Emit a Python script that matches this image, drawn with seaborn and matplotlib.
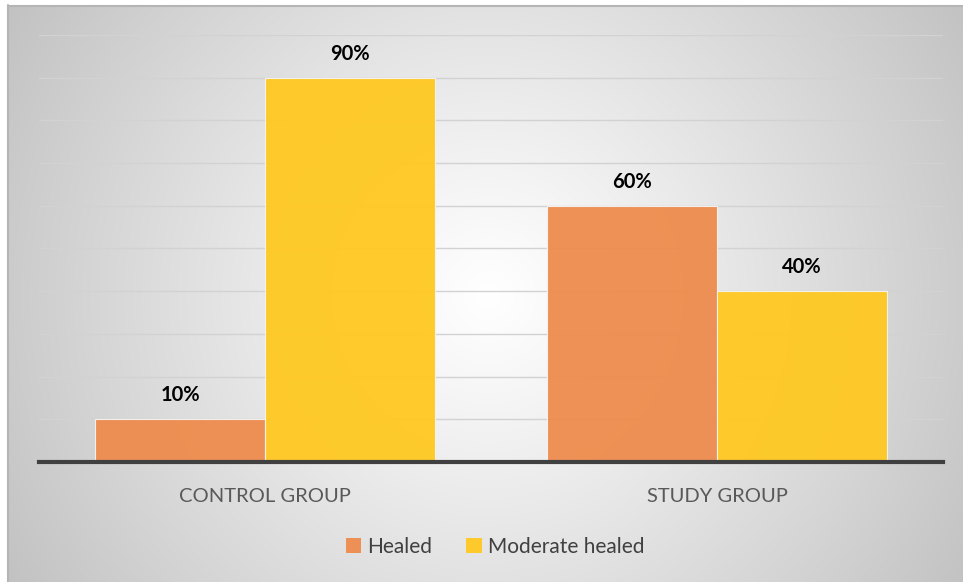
import numpy as np
import pandas as pd
import matplotlib
matplotlib.use("Agg")
import matplotlib.pyplot as plt
from matplotlib.patches import Patch
import seaborn as sns

groups = ["CONTROL GROUP", "STUDY GROUP"]
series = ["Healed", "Moderate healed"]
healed = [10, 60]
moderate = [90, 40]
colors = ["#EE8B4C", "#FFC81F"]

df = pd.DataFrame({
    "group": groups * 2,
    "series": [series[0]] * 2 + [series[1]] * 2,
    "value": healed + moderate,
})

sns.set_theme(style="white")
plt.rcParams["font.family"] = ["Lato", "DejaVu Sans"]

W, H = 963, 582
fig = plt.figure(figsize=(W / 100, H / 100), dpi=100)
fig.patch.set_facecolor("white")

# background radial gradient panel
bg = fig.add_axes([8 / W, 0, 1 - 8 / W, 1 - 5 / H])
bg.set_axis_off()
yy, xx = np.mgrid[0:577, 0:955]
cx, cy = 480, 290
d = np.sqrt((xx - cx) ** 2 + (yy - cy) ** 2)
t = d / d.max()
val = 1 - 0.24 * t ** 1.1
img = np.dstack([val, val, val])
bg.imshow(img, aspect="auto", extent=[0, 1, 0, 1], origin="upper")
bg.set_xlim(0, 1)
bg.set_ylim(0, 1)
bg.plot([0.0005, 0.0005], [0, 1], color="#b5b5b5", lw=1.5, transform=bg.transAxes, clip_on=False)
bg.plot([0, 1], [0.999, 0.999], color="#b5b5b5", lw=1.5, transform=bg.transAxes, clip_on=False)

ax = fig.add_axes([39 / W, (H - 462) / H, (943 - 39) / W, (462 - 35) / H])
ax.patch.set_alpha(0)
sns.barplot(data=df, x="group", y="value", hue="series", order=groups,
            hue_order=series, palette=colors, saturation=1, width=0.752, ax=ax,
            edgecolor="#f4f4f4", linewidth=0.8, alpha=0.94, legend=False,
            zorder=3)

ax.set_ylim(0, 100)
ax.set_yticks(np.arange(10, 101, 10))
ax.yaxis.grid(True, color="#d2d2d2", lw=1.0, zorder=0)
ax.set_axisbelow(True)
ax.tick_params(axis="y", left=False, labelleft=False)
ax.tick_params(axis="x", bottom=False, pad=13, labelsize=14.5, labelcolor="#595959")
ax.set_xlabel("")
ax.set_ylabel("")
for s in ["top", "right", "left"]:
    ax.spines[s].set_visible(False)
ax.spines["bottom"].set_color("#404040")
ax.spines["bottom"].set_linewidth(3)
ax.spines["bottom"].set_zorder(5)

for cont in ax.containers:
    for bar in cont:
        h = bar.get_height()
        ax.annotate(f"{h:.0f}%", (bar.get_x() + bar.get_width() / 2, h),
                    xytext=(0, 10), textcoords="offset points",
                    ha="center", va="bottom", fontsize=14.5, fontweight="bold",
                    color="black")

handles = [Patch(facecolor=c, edgecolor="none", alpha=0.94) for c in colors]
fig.legend(handles, series, loc="center", bbox_to_anchor=(495 / W, 1 - 547 / H),
           ncol=2, frameon=False, fontsize=15, handlelength=0.75, handleheight=0.75,
           handletextpad=0.3, columnspacing=1.6, labelcolor="#404040")

fig.savefig("out.png", dpi=100)
